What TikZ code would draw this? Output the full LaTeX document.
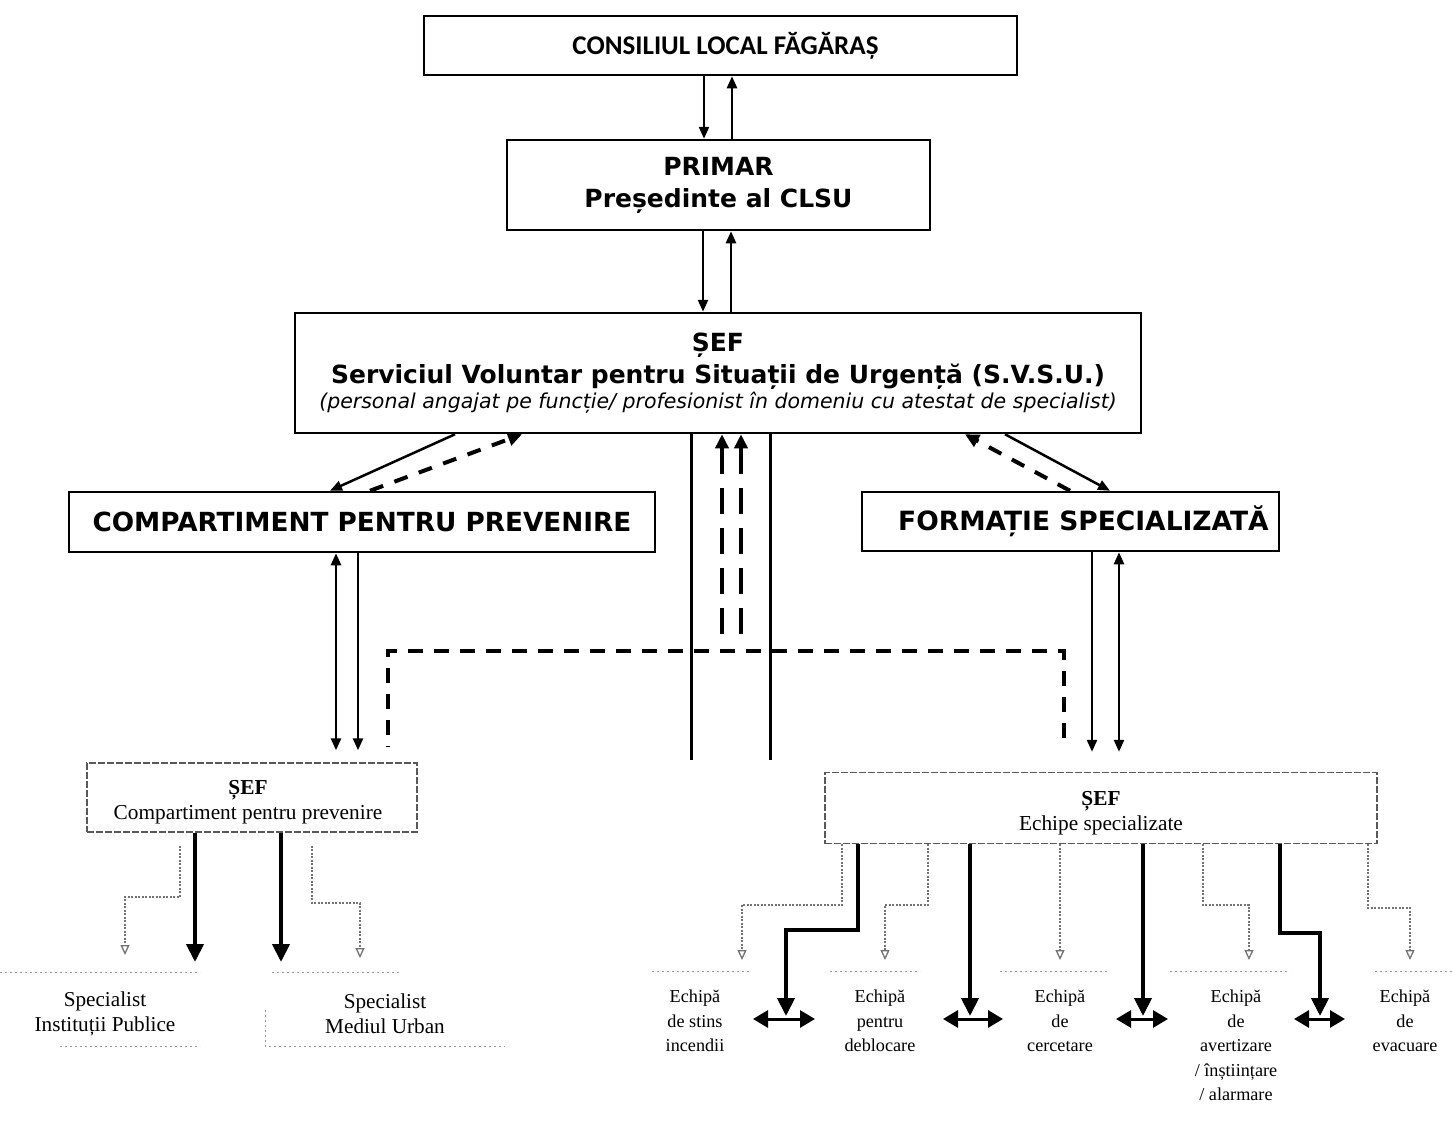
\documentclass[tikz,border=0pt]{standalone}
\usepackage{fontspec}
\setmainfont{Liberation Serif}
\newfontfamily\calib{Carlito}
\newfontfamily\verd{DejaVu Sans}
\usetikzlibrary{arrows.meta}
\begin{document}
\begin{tikzpicture}[x=1pt,y=-1pt,
 box/.style={draw, line width=2.5pt, inner sep=0pt, align=center},
 sefbox/.style={draw=black!65, line width=1.4pt, dash pattern=on 7pt off 2pt, inner sep=0pt},
 seftext/.style={align=center, inner sep=0pt, font=\fontsize{21.3}{25.5}\selectfont},
 arr/.style={line width=2.5pt, -{Triangle[length=12pt,width=10pt]}},
 darr/.style={line width=2.5pt, {Triangle[length=12pt,width=10pt]}-{Triangle[length=12pt,width=10pt]}},
 dsh/.style={line width=4pt, dash pattern=on 15pt off 11pt},
 dsharr/.style={line width=4pt, dash pattern=on 14pt off 12pt, -{Triangle[length=14pt,width=13pt]}},
 big/.style={line width=4pt, -{Triangle[length=18pt,width=17pt]}},
 hbig/.style={line width=3pt, {Triangle[length=15pt,width=17pt]}-{Triangle[length=15pt,width=17pt]}},
 dotarr/.style={draw=black!55, line width=1.3pt, dash pattern=on 2pt off 1.5pt, -{Triangle[open,length=10pt,width=9pt]}},
 faint/.style={draw=black!40, line width=1pt, dash pattern=on 2pt off 3pt},
 lbl/.style={align=center, inner sep=0pt, font=\fontsize{18.2}{24.5}\selectfont},
 spec/.style={align=center, inner sep=0pt, font=\fontsize{21.2}{25}\selectfont}
]
\useasboundingbox[fill=white] (0,0) rectangle (1452,1122);

% main boxes
\node[box, minimum width=593pt, minimum height=59pt, font=\calib\bfseries\fontsize{27}{30}\selectfont] (cons) at (720.5,45.5) {\hspace*{10pt}CONSILIUL LOCAL FĂGĂRAȘ};
\node[box, minimum width=423pt, minimum height=90pt, font=\verd\bfseries\fontsize{25}{32}\selectfont] (primar) at (718.5,185) {PRIMAR\\Președinte al CLSU};
\node[box, minimum width=846pt, minimum height=120pt, font=\verd\bfseries\fontsize{25}{32}\selectfont] (svsu) at (718,373)
 {ȘEF\\Serviciul Voluntar pentru Situații de Urgență (S.V.S.U.)\\[-7pt]{\mdseries\itshape\fontsize{20.5}{24}\selectfont (personal angajat pe funcție/ profesionist în domeniu cu atestat de specialist)}};
\node[box, minimum width=586pt, minimum height=60pt, font=\verd\bfseries\fontsize{26.3}{30}\selectfont] (comp) at (362,522) {COMPARTIMENT PENTRU PREVENIRE};
\node[box, minimum width=417pt, minimum height=59pt, font=\verd\bfseries\fontsize{26.5}{30}\selectfont] (form) at (1070.5,521.5) {\hspace*{26pt}FORMAȚIE SPECIALIZATĂ};

% SEF boxes
\node[sefbox, minimum width=330pt, minimum height=69pt] (sefc) at (252,797.5) {};
\node[seftext] (sefct) at (248,802) {\textbf{ȘEF}\\Compartiment pentru prevenire};
\node[sefbox, minimum width=552pt, minimum height=71pt] (sefe) at (1101,808) {};
\node[seftext] (sefet) at (1101,813) {\textbf{ȘEF}\\Echipe specializate};

% bottom labels
\node[spec] (sp1) at (105,1014) {Specialist\\Instituții Publice};
\node[spec] (sp2) at (385,1014) {Specialist\\Mediul Urban};
\node[lbl, anchor=north] (e1) at (695,990) {Echipă\\de stins\\incendii};
\node[lbl, anchor=north] (e2) at (880,990) {Echipă\\pentru\\deblocare};
\node[lbl, anchor=north] (e3) at (1060,990) {Echipă\\de\\cercetare};
\node[lbl, anchor=north] (e4) at (1236,990) {Echipă\\de\\avertizare\\/ înștiințare\\/ alarmare};
\node[lbl, anchor=north] (e5) at (1405,990) {Echipă\\de\\evacuare};

% faint frames around bottom labels
\draw[faint] (0,972) -- (200,972);
\draw[faint] (60,1046) -- (200,1046);
\draw[faint] (272,972) -- (400,972);
\draw[faint] (265,1010) -- (265,1046) -- (505,1046);
\draw[faint] (652,971) -- (750,971);
\draw[faint] (830,971) -- (920,971);
\draw[faint] (1000,971) -- (1110,971);
\draw[faint] (1170,971) -- (1290,971);
\draw[faint] (1375,971) -- (1452,971);

% cons <-> primar
\draw[arr] (704,0 |- cons.south) -- (704,0 |- primar.north);
\draw[arr] (732,0 |- primar.north) -- (732,0 |- cons.south);
% primar <-> svsu
\draw[arr] (703,0 |- primar.south) -- (703,0 |- svsu.north);
\draw[arr] (731,0 |- svsu.north) -- (731,0 |- primar.south);

% svsu <-> comp
\draw[arr] (455,0 |- svsu.south) -- (330,0 |- comp.north);
\draw[dsharr] (370,0 |- comp.north) -- (522,0 |- svsu.south);
% svsu <-> form
\draw[arr] (1005,0 |- svsu.south) -- (1110,0 |- form.north);
\draw[dsharr] (1070,0 |- form.north) -- (965,0 |- svsu.south);

% center lines
\coordinate (c1) at (691,760);
\coordinate (c2) at (770,760);
\coordinate (u1) at (722,634);
\coordinate (u2) at (741,634);
\draw[line width=3pt] (691,0 |- svsu.south) -- (c1);
\draw[line width=3pt] (770,0 |- svsu.south) -- (c2);
\draw[dsharr, dash pattern=on 26pt off 14pt, line width=3.5pt] (u1) -- (722,0 |- svsu.south);
\draw[dsharr, dash pattern=on 26pt off 14pt, line width=3.5pt] (u2) -- (741,0 |- svsu.south);

% comp <-> sefc
\draw[darr, shorten >=12pt] (336,0 |- comp.south) -- (336,0 |- sefc.north);
\draw[arr, shorten >=12pt] (358,0 |- comp.south) -- (358,0 |- sefc.north);
% form <-> sefe
\draw[arr, shorten >=20pt] (1092,0 |- form.south) -- (1092,0 |- sefe.north);
\draw[darr, shorten >=20pt] (1119,0 |- form.south) -- (1119,0 |- sefe.north);
% dashed L
\draw[dsh, shorten <=34pt, shorten >=15pt] (1064,0 |- sefe.north) -- (1064,651) -- (388,651) -- (388,0 |- sefc.north);

% sefc children
\draw[big] (195,0 |- sefc.south) -- (195,962);
\draw[big] (281,0 |- sefc.south) -- (281,962);
\draw[dotarr, shorten <=13pt] (180,0 |- sefc.south) |- (125,897) -- (125,955);
\draw[dotarr, shorten <=13pt] (312,0 |- sefc.south) |- (360,903) -- (360,958);

% sefe children
\draw[dotarr] (842,0 |- sefe.south) |- (742,905) -- (742,960);
\draw[big] (858,0 |- sefe.south) |- (786,930) -- (786,1016);
\draw[dotarr] (928,0 |- sefe.south) |- (885,905) -- (885,960);
\draw[big] (970,0 |- sefe.south) -- (970,1016);
\draw[dotarr] (1060,0 |- sefe.south) -- (1060,960);
\draw[big] (1143,0 |- sefe.south) -- (1143,1016);
\draw[dotarr] (1203,0 |- sefe.south) |- (1249,905) -- (1249,960);
\draw[big] (1280,0 |- sefe.south) |- (1320,933) -- (1320,1016);
\draw[dotarr] (1368,0 |- sefe.south) |- (1410,908) -- (1410,960);

% horizontal double arrows
\coordinate (h1a) at (753,1019); \coordinate (h1b) at (815,1019);
\coordinate (h2a) at (943,1019); \coordinate (h2b) at (1003,1019);
\coordinate (h3a) at (1116,1019); \coordinate (h3b) at (1168,1019);
\coordinate (h4a) at (1294,1019); \coordinate (h4b) at (1345,1019);
\draw[hbig] (h1a) -- (h1b);
\draw[hbig] (h2a) -- (h2b);
\draw[hbig] (h3a) -- (h3b);
\draw[hbig] (h4a) -- (h4b);
\end{tikzpicture}
\end{document}
